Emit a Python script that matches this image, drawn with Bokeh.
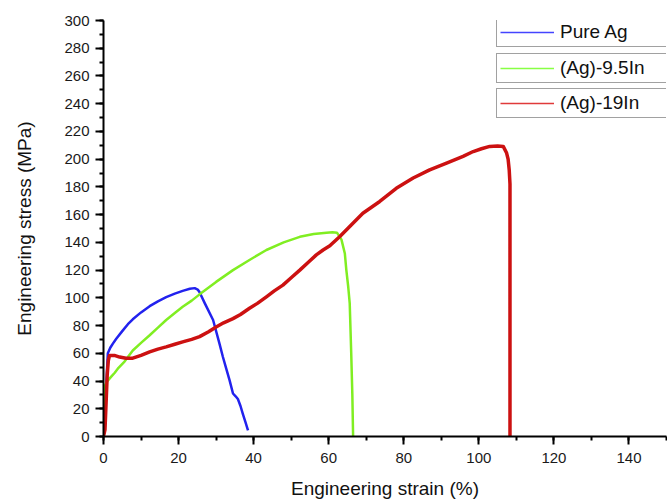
from bokeh.plotting import figure
from bokeh.models import Range1d, Legend, LegendItem, SingleIntervalTicker
from bokeh.embed import file_html
from bokeh.resources import INLINE

# ---- data ----
pure_ag_strain = [0, 0.4, 0.8, 1.15, 1.8, 2.5, 3.4, 5, 6.5, 7.8, 10, 12.3, 14.5,
                  16.7, 19, 21.1, 23, 24.3, 25.1, 25.6, 27, 29.2, 30.9, 31.8, 32.7,
                  33.6, 34.5, 35.2, 35.8, 36.5, 37.1, 37.8, 38.5]
pure_ag_stress = [0, 15, 40, 60, 64, 67, 70.5, 76, 81, 84.5, 89.5, 94, 97.5, 100.5,
                  103, 105, 106.5, 107, 106, 104, 96, 84, 67, 57.5, 49, 40.5,
                  31, 29, 27, 22, 16.5, 10.5, 4.5]

ag95_strain = [0, 0.15, 0.3, 0.8, 1.2, 2, 3, 4, 5.6, 6.5, 7.8, 10, 12.3, 14.5,
               16.7, 19, 21.1, 23.5, 25.6, 30, 34.5, 39, 43.4, 48, 52.3, 56, 59.4,
               61, 62.2, 63.4, 64.3, 64.7, 65.2, 65.6, 66, 66.3, 66.5]
ag95_stress = [0, 20, 36, 39, 40.5, 43, 46, 49.5, 54, 57.3, 62, 67.5, 73, 78.5,
               84, 89, 93.5, 98, 102.5, 111.5, 120, 127.5, 134.5, 140, 144, 146,
               147, 147.3, 147, 142, 132, 120, 108, 96, 60, 30, 0]

ag19_strain = [0, 0.4, 0.7, 1.0, 1.3, 1.6, 2.9, 4.3, 6, 7.8, 10, 12.3, 14.5, 16.7,
               19, 21.1, 23.5, 25.6, 28, 30, 32, 34.5, 36.5, 38.9, 41, 43.4, 45.5,
               47.8, 50, 52.3, 54.5, 56.7, 58.5, 60.3, 62.9, 66, 69.1, 73.6, 78,
               82.5, 86.9, 91.4, 95.8, 98.5, 100.7, 102.9, 105, 106.5, 107.4,
               107.8, 108.1, 108.3, 108.3]
ag19_stress = [0, 5, 25, 45, 55, 58.5, 58.5, 57.3, 56.5, 56.5, 58.5, 61, 63, 64.6,
               66.5, 68.2, 70, 72, 75.5, 79, 82, 85, 88, 92.5, 96, 100.7, 105,
               109.2, 114.5, 120, 125.5, 131, 134.5, 137.5, 144, 152.5, 161, 169.5,
               179, 186.4, 192.3, 197.2, 202, 205.5, 207.5, 209.2, 209.5, 209.2,
               204.4, 200, 192, 182, 0]

series_labels = ["Pure Ag", "(Ag)-9.5In", "(Ag)-19In"]
series_colors = ["#2222ee", "#80ee22", "#cc1111"]
legend_colors = ["#4444ff", "#88ff44", "#e03a3a"]

FONT = "Liberation Sans"

p = figure(frame_width=563, frame_height=416,
           x_range=Range1d(0, 150), y_range=Range1d(0, 300),
           output_backend="svg", toolbar_location=None,
           min_border_left=103, min_border_top=20, min_border_right=1,
           min_border_bottom=65,
           x_axis_label="Engineering strain (%)",
           y_axis_label="Engineering stress (MPa)")

p.grid.visible = False
p.outline_line_color = None
p.background_fill_color = "white"
p.border_fill_color = "white"

data = [(pure_ag_strain, pure_ag_stress), (ag95_strain, ag95_stress),
        (ag19_strain, ag19_stress)]
widths = [2.5, 2.5, 3.5]
for (xs, ys), c, w in zip(data, series_colors, widths):
    p.line(xs, ys, line_color=c, line_width=w, line_join="round")

for ax in (p.xaxis[0], p.yaxis[0]):
    ax.ticker = SingleIntervalTicker(interval=20, num_minor_ticks=2)
    ax.axis_line_width = 2
    ax.axis_line_color = "black"
    ax.major_tick_line_width = 2
    ax.minor_tick_line_width = 2
    ax.major_tick_line_color = "black"
    ax.minor_tick_line_color = "black"
    ax.major_tick_out = 8
    ax.major_tick_in = 0
    ax.minor_tick_out = 4
    ax.minor_tick_in = 0
    ax.major_label_text_font = FONT
    ax.major_label_text_font_size = "15px"
    ax.major_label_text_color = "#1a1a1a"
    ax.major_label_standoff = 6
    ax.axis_label_text_font = FONT
    ax.axis_label_text_font_size = "19px"
    ax.axis_label_text_font_style = "normal"
    ax.axis_label_text_color = "#111111"

p.yaxis[0].axis_label_standoff = 26
p.xaxis[0].major_label_standoff = 8
p.xaxis[0].axis_label_standoff = 12

# legend boxes (one per series, stacked)
legend_bottoms = [389, 353, 318]
for label, lc, yb in zip(series_labels, legend_colors, legend_bottoms):
    dummy = p.line([-100, -90], [-100, -90], line_color=lc, line_width=1.5)
    leg = Legend(items=[LegendItem(label=label, renderers=[dummy])],
                 location=(393, yb), padding=3, spacing=0, margin=0,
                 glyph_width=54, glyph_height=20, label_standoff=6,
                 label_width=140, label_height=20,
                 label_text_font=FONT, label_text_font_size="19px",
                 label_text_color="#111111",
                 border_line_color="#444444", border_line_width=1,
                 background_fill_color="white", background_fill_alpha=1)
    p.add_layout(leg, "center")

open("out.html", "w").write(file_html(p, INLINE))
